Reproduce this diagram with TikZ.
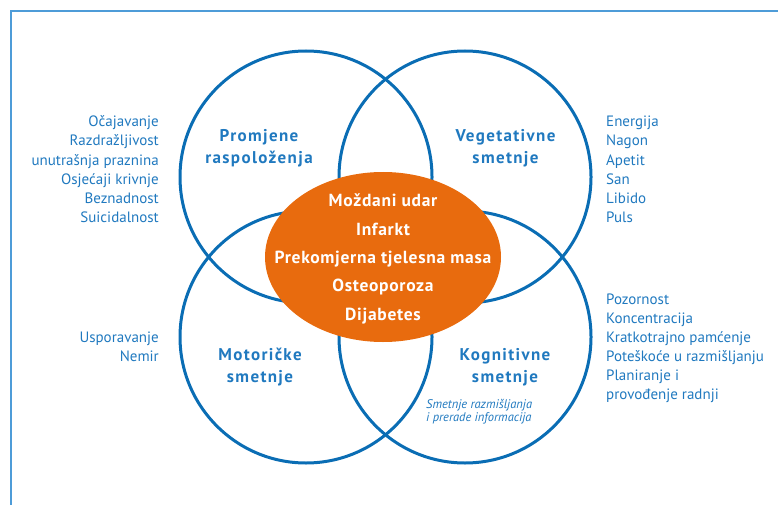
\documentclass[tikz,border=0pt]{standalone}
\usepackage{fontspec}
\usetikzlibrary{shapes.geometric}
\setmainfont{PT Sans}
\newfontfamily\titlefont{PT Sans}[LetterSpace=8]
\newfontfamily\corefont{PT Sans}[LetterSpace=4]
\definecolor{ringblue}{HTML}{0A6DB4}
\definecolor{txtblue}{HTML}{2079BF}
\definecolor{frameblue}{HTML}{4E9CD8}
\definecolor{core}{HTML}{E86B0E}
\tikzset{
  ring/.style={draw=ringblue, line width=3pt},
  listtext/.style={inner sep=0pt, text=txtblue, font=\fontsize{15}{19}\selectfont},
  listR/.style={listtext, anchor=base east},
  listL/.style={listtext, anchor=base west},
  title/.style={inner sep=0pt, anchor=base, text=txtblue, font=\titlefont\fontsize{17}{22}\selectfont\bfseries},
  coretext/.style={inner sep=0pt, anchor=base, text=white, font=\corefont\fontsize{17.5}{22}\selectfont\bfseries},
  note/.style={inner sep=0pt, anchor=base west, text=txtblue, font=\fontsize{12.5}{14}\selectfont\itshape},
}
\begin{document}
\begin{tikzpicture}[x=1pt, y=-1pt]
\useasboundingbox (0,0) rectangle (778,505);
% frame
\coordinate (fbl) at (11,505);
\coordinate (fc) at (11,11);
\coordinate (ftr) at (778,11);
\draw[frameblue, line width=1.4pt] (fbl) -- (fc) -- (ftr);
% four overlapping rings
\node[ring, circle, minimum size=252pt, inner sep=0pt] (r1) at (306,177) {};
\node[ring, circle, minimum size=252pt, inner sep=0pt] (r2) at (465,177) {};
\node[ring, circle, minimum size=252pt, inner sep=0pt] (r3) at (306,337) {};
\node[ring, circle, minimum size=252pt, inner sep=0pt] (r4) at (465,337) {};
% central ellipse
\node[ellipse, fill=core, draw=none, inner sep=0pt, minimum width=236pt, minimum height=170pt] (core) at (383,257) {};
\node[coretext] (c1) at (383,206.7) {Moždani udar};
\node[coretext] (c2) at (383,235) {Infarkt};
\node[coretext] (c3) at (383,263.3) {Prekomjerna tjelesna masa};
\node[coretext] (c4) at (383,291.7) {Osteoporoza};
\node[coretext] (c5) at (383,320.3) {Dijabetes};
% ring titles
\node[title] (t1a) at (259,141.7) {Promjene};
\node[title] (t1b) at (259,164) {raspoloženja};
\node[title] (t2a) at (505.5,141.7) {Vegetativne};
\node[title] (t2b) at (505.5,164) {smetnje};
\node[title] (t3a) at (260,360) {Motoričke};
\node[title] (t3b) at (260,382) {smetnje};
\node[title] (t4a) at (505,360) {Kognitivne};
\node[title] (t4b) at (505,382) {smetnje};
\node[note] (n1) at (426,408.3) {Smetnje razmišljanja};
\node[note] (n2) at (426,421.7) {i prerade informacija};
% side lists
\node[listR] (a1) at (159,127) {Očajavanje};
\node[listR] (a2) at (159,146) {Razdražljivost};
\node[listR] (a3) at (159,165) {unutrašnja praznina};
\node[listR] (a4) at (159,184) {Osjećaji krivnje};
\node[listR] (a5) at (159,203) {Beznadnost};
\node[listR] (a6) at (159,222) {Suicidalnost};
\node[listL] (b1) at (606,127) {Energija};
\node[listL] (b2) at (606,146) {Nagon};
\node[listL] (b3) at (606,165) {Apetit};
\node[listL] (b4) at (606,184) {San};
\node[listL] (b5) at (606,203) {Libido};
\node[listL] (b6) at (606,222) {Puls};
\node[listR] (m1) at (159,342) {Usporavanje};
\node[listR] (m2) at (159,361.5) {Nemir};
\node[listL] (k1) at (606,304) {Pozornost};
\node[listL] (k2) at (606,323) {Koncentracija};
\node[listL] (k3) at (606,342) {Kratkotrajno pamćenje};
\node[listL] (k4) at (606,361.5) {Poteškoće u razmišljanju};
\node[listL] (k5) at (606,380.5) {Planiranje i};
\node[listL] (k6) at (606,399.5) {provođenje radnji};
\end{tikzpicture}
\end{document}
